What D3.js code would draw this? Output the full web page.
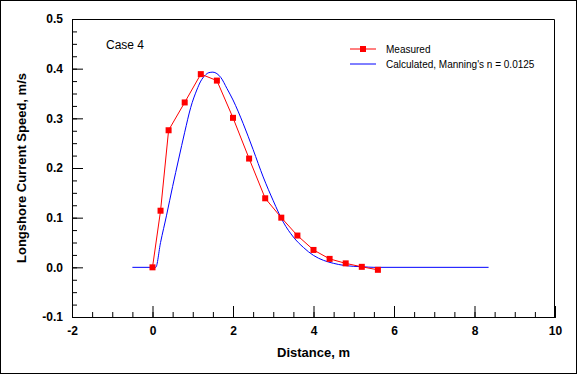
<!DOCTYPE html>
<html>
<head>
<meta charset="utf-8">
<script src="https://cdn.jsdelivr.net/npm/d3@7"></script>
<style>
  body { margin: 0; background: #fff; }
  svg { display: block; font-family: "Liberation Sans", Arial, sans-serif; }
</style>
</head>
<body>
<svg id="chart"></svg>
<script>
// measured longshore current (red squares)
const measuredX = [0, 0.2, 0.4, 0.8, 1.2, 1.6, 2.0, 2.4, 2.8, 3.2, 3.6, 4.0, 4.4, 4.8, 5.2, 5.6];
const measuredY = [0, 0.114, 0.276, 0.332, 0.389, 0.376, 0.301, 0.219, 0.139, 0.100, 0.064, 0.035, 0.017, 0.008, 0.001, -0.005];

// calculated curve, Manning's n = 0.0125 (blue)
const calcX = [-0.5, 0.0, 0.08, 0.2, 0.35, 0.5, 0.65, 0.8, 0.95, 1.1, 1.2, 1.3, 1.4, 1.5, 1.6, 1.7, 1.85, 2.0,
               2.25, 2.5, 2.75, 3.0, 3.25, 3.5, 3.75, 4.0, 4.25, 4.5, 4.75, 5.0, 5.25, 5.5, 8.35];
const calcY = [0, 0, 0, 0.05, 0.105, 0.163, 0.218, 0.272, 0.322, 0.357, 0.375, 0.386, 0.392, 0.393, 0.390, 0.382, 0.360, 0.337,
               0.290, 0.237, 0.182, 0.134, 0.091, 0.061, 0.040, 0.024, 0.014, 0.008, 0.004, 0.002, 0.001, 0, 0];

const seriesNames = ["Measured", "Calculated, Manning's n = 0.0125"];
const xTicks = [-2, 0, 2, 4, 6, 8, 10];
const yTicks = [-0.1, 0.0, 0.1, 0.2, 0.3, 0.4, 0.5];
const yTickLabels = ["-0.1", "0.0", "0.1", "0.2", "0.3", "0.4", "0.5"];
const caseLabel = "Case 4";

const width = 577, height = 374;
const margin = {top: 19, right: 22, bottom: 57, left: 72};
const innerW = width - margin.left - margin.right;
const innerH = height - margin.top - margin.bottom;

const svg = d3.select("#chart").attr("width", width).attr("height", height);

// outer frame
svg.append("rect")
    .attr("x", 0.5).attr("y", 0.5)
    .attr("width", width - 1).attr("height", height - 1)
    .attr("fill", "#fff").attr("stroke", "#000");

const chart = svg.append("g")
    .attr("transform", `translate(${margin.left}, ${margin.top})`);

const xScale = d3.scaleLinear().domain([-2, 10]).range([0, innerW]);
const yScale = d3.scaleLinear().domain([-0.1, 0.5]).range([innerH, 0]);

// minor ticks
chart.append("g")
    .attr("transform", `translate(0, ${innerH})`)
    .call(d3.axisBottom(xScale).tickValues(d3.range(-2, 10.01, 0.5)).tickSize(-5).tickFormat(""));
chart.append("g")
    .call(d3.axisLeft(yScale).tickValues(d3.range(-0.1, 0.501, 0.025)).tickSize(-5).tickFormat(""));

// major ticks with labels
const xAxisGroup = chart.append("g")
    .attr("transform", `translate(0, ${innerH})`)
    .call(d3.axisBottom(xScale).tickValues(xTicks).tickSize(-11).tickPadding(9).tickFormat(d => d));
const yAxisGroup = chart.append("g")
    .call(d3.axisLeft(yScale).tickValues(yTicks).tickSize(-11).tickPadding(9)
        .tickFormat((d, i) => yTickLabels[i]));

chart.selectAll(".domain").attr("stroke", "#000");
chart.selectAll(".tick line").attr("stroke", "#000");
chart.selectAll(".tick text")
    .style("font-size", "12px")
    .style("font-weight", "bold")
    .attr("fill", "#000");

// top and right border of plot
chart.append("path")
    .attr("d", `M0,0.5H${innerW - 0.5}V${innerH}`)
    .attr("fill", "none").attr("stroke", "#000");

// axis titles
chart.append("text")
    .attr("text-anchor", "middle")
    .attr("x", innerW / 2)
    .attr("y", innerH + 40)
    .style("font-size", "13px")
    .style("font-weight", "bold")
    .text("Distance, m");

chart.append("text")
    .attr("text-anchor", "middle")
    .attr("transform", "rotate(-90)")
    .attr("x", -innerH / 2)
    .attr("y", -46)
    .style("font-size", "13px")
    .style("font-weight", "bold")
    .text("Longshore Current Speed, m/s");

chart.append("text")
    .attr("x", 34)
    .attr("y", 30)
    .style("font-size", "12px")
    .text(caseLabel);

// calculated line
const calcData = calcX.map((x, i) => ({x: x, y: calcY[i]}));
const measuredData = measuredX.map((x, i) => ({x: x, y: measuredY[i]}));

chart.append("path")
    .datum(calcData)
    .attr("fill", "none")
    .attr("stroke", "#0000ff")
    .attr("stroke-width", 1)
    .attr("d", d3.line().x(d => xScale(d.x)).y(d => yScale(d.y)).curve(d3.curveMonotoneX));

chart.append("path")
    .datum(measuredData)
    .attr("fill", "none")
    .attr("stroke", "#ff0000")
    .attr("stroke-width", 1)
    .attr("d", d3.line().x(d => xScale(d.x)).y(d => yScale(d.y)));

chart.selectAll("rect.marker")
    .data(measuredData)
    .join("rect")
        .attr("class", "marker")
        .attr("x", d => xScale(d.x) - 3)
        .attr("y", d => yScale(d.y) - 3)
        .attr("width", 6)
        .attr("height", 6)
        .attr("fill", "#ff0000");

// legend
const legend = chart.append("g").attr("transform", `translate(${350 - margin.left}, ${49 - margin.top})`);
const legendColors = ["#ff0000", "#0000ff"];
seriesNames.forEach((name, i) => {
    const row = legend.append("g").attr("transform", `translate(0, ${i * 15})`);
    row.append("line")
        .attr("x1", 0).attr("x2", 26)
        .attr("stroke", legendColors[i]).attr("stroke-width", 1);
    if (i === 0) {
        row.append("rect").attr("x", 10).attr("y", -3).attr("width", 6).attr("height", 6).attr("fill", "#ff0000");
    }
    row.append("text")
        .attr("x", 36)
        .attr("dy", "0.35em")
        .style("font-size", "10px")
        .text(name);
});
</script>
</body>
</html>
